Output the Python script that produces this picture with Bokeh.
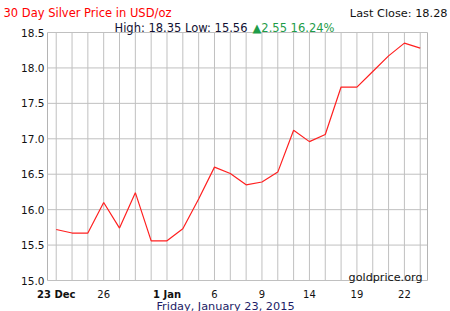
from bokeh.plotting import figure
from bokeh.models import Range1d, Label, ColumnDataSource
from bokeh.core.properties import value, field
from bokeh.embed import file_html
from bokeh.resources import INLINE

# ---- data ----
dates = ["23 Dec", "24", "25", "26", "29", "30", "31", "1 Jan", "2", "5", "6", "7",
         "8", "9", "12", "13", "14", "15", "16", "19", "20", "21", "22", "23"]
prices = [15.72, 15.67, 15.67, 16.10, 15.74, 16.24, 15.56, 15.56, 15.73, 16.15, 16.60, 16.51,
          16.35, 16.39, 16.53, 17.12, 16.96, 17.06, 17.73, 17.73, 17.95, 18.17, 18.35, 18.28]
label_idx = [0, 3, 7, 10, 13, 16, 19, 22]
y_ticks = [15.0, 15.5, 16.0, 16.5, 17.0, 17.5, 18.0, 18.5]
title_text = "30 Day Silver Price in USD/oz"
last_close_text = "Last Close: 18.28"
hilo_text = "High: 18.35 Low: 15.56"
change_text = "\u25b22.55 16.24%"
date_text = "Friday, January 23, 2015"
source_text = "goldprice.org"

# ---- layout constants ----
FONT = "DejaVu Sans"
W, H = 450, 311
PAD_L, PAD_R, PAD_T, PAD_B = 47, 23, 32, 31
GRID = "#c0c0c0"
xs = list(range(len(prices)))
x0, x1 = -0.55, len(prices) - 0.54
ylo, yhi = y_ticks[0], y_ticks[-1]
kx = (W - PAD_L - PAD_R) / (x1 - x0)
ky = (H - PAD_T - PAD_B) / (yhi - ylo)

p = figure(width=W, height=H, output_backend="svg", toolbar_location=None,
           x_range=Range1d(x0 - PAD_L / kx, x1 + PAD_R / kx),
           y_range=Range1d(ylo - PAD_B / ky, yhi + PAD_T / ky),
           x_axis_location=None, y_axis_location=None, min_border=0,
           background_fill_color="white", border_fill_color="white")
p.grid.visible = False
p.outline_line_color = None

# grid lines inside the plotting box
p.segment(x0=xs, y0=[ylo] * len(xs), x1=xs, y1=[yhi] * len(xs), line_color=GRID, line_width=1)
p.segment(x0=[x0] * len(y_ticks), y0=y_ticks, x1=[x1] * len(y_ticks), y1=y_ticks,
          line_color=GRID, line_width=1)
p.segment(x0=[x0, x1], y0=[ylo, ylo], x1=[x0, x1], y1=[yhi, yhi], line_color="#b4b4b4",
          line_width=1)

# price line
p.line(xs, prices, line_color="#ff2020", line_width=1.2)

# y tick labels
p.text(x=[x0] * len(y_ticks), y=y_ticks, text=[f"{t:.1f}" for t in y_ticks],
       x_offset=-3, text_align="right", text_baseline="middle",
       text_font=value(FONT), text_font_size="10.5px", text_color="#111111")

# x tick labels (month starts in bold)
src = ColumnDataSource(dict(
    x=[xs[i] for i in label_idx],
    y=[ylo] * len(label_idx),
    text=[dates[i] for i in label_idx],
    style=["bold" if " " in dates[i] else "normal" for i in label_idx],
))
p.text(x="x", y="y", text="text", source=src, y_offset=13.5,
       text_font=value(FONT), text_font_size="10px", text_font_style=field("style"),
       text_align="center", text_baseline="alphabetic", text_color="#111111")

# header / footer texts
p.add_layout(Label(x=3, y=12.5, x_units="canvas", y_units="canvas", text=title_text,
                   text_font=FONT, text_font_size="11.5px", text_color="#ff0000",
                   text_baseline="alphabetic"))
p.add_layout(Label(x=447, y=12.5, x_units="canvas", y_units="canvas", text=last_close_text,
                   text_font=FONT, text_font_size="11.3px", text_color="#111111",
                   text_align="right", text_baseline="alphabetic"))
p.add_layout(Label(x=114, y=27, x_units="canvas", y_units="canvas", text=hilo_text,
                   text_font=FONT, text_font_size="11.5px", text_color="#111133",
                   text_baseline="alphabetic"))
p.add_layout(Label(x=252, y=27, x_units="canvas", y_units="canvas", text=change_text,
                   text_font=FONT, text_font_size="11.5px", text_color="#1e9c48",
                   text_baseline="alphabetic"))
p.add_layout(Label(x=225, y=299, x_units="canvas", y_units="canvas", text=date_text,
                   text_font=FONT, text_font_size="11.3px", text_color="#1c1c66",
                   text_align="center", text_baseline="top"))
p.add_layout(Label(x=422, y=277, x_units="canvas", y_units="canvas", text=source_text,
                   text_font=FONT, text_font_size="11.2px", text_color="#111111",
                   text_align="right", text_baseline="alphabetic"))

open("out.html", "w").write(file_html(p, INLINE))
